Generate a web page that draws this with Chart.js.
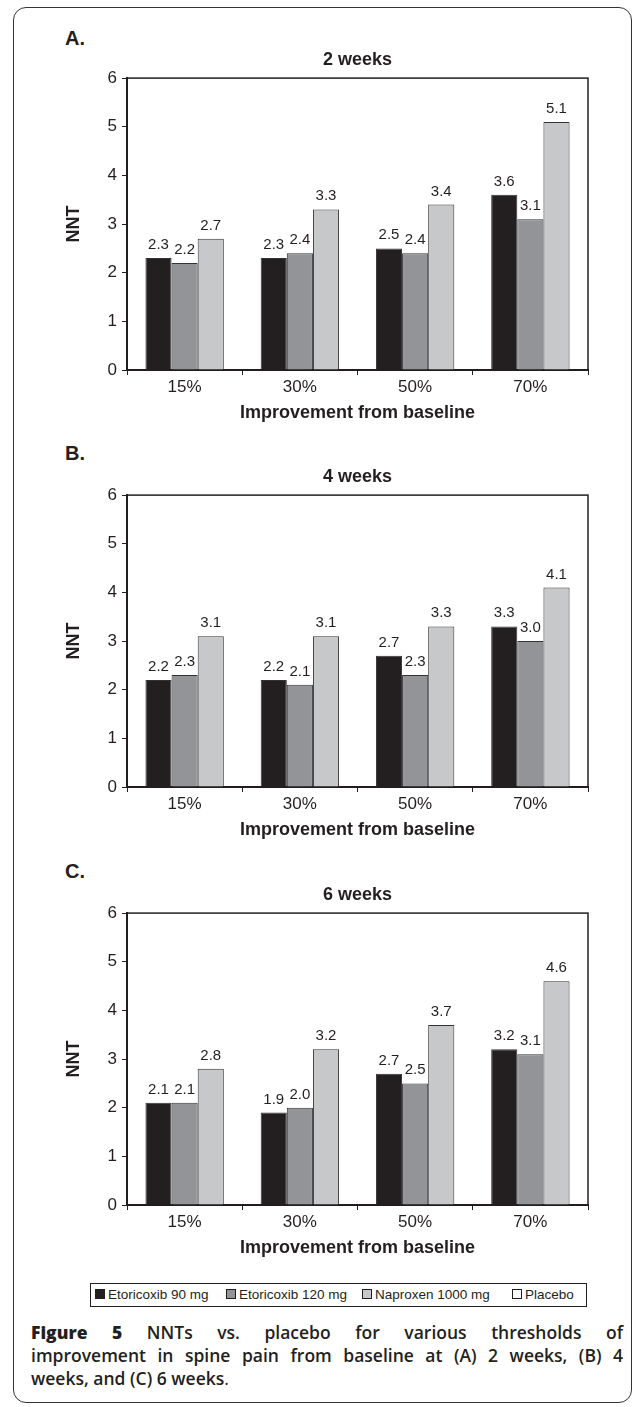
<!DOCTYPE html>
<html>
<head>
<meta charset="utf-8">
<script src="https://cdn.jsdelivr.net/npm/chart.js@4.4.1/dist/chart.umd.min.js"></script>
<style>
  html, body { margin: 0; padding: 0; background: #fff; }
  body { width: 636px; height: 1407px; position: relative; overflow: hidden; font-family: "Liberation Sans", Arial, sans-serif; color: #231f20; }
  .frame { position: absolute; left: 13px; top: 7px; width: 619px; height: 1396px; border: 1.5px solid #333; border-radius: 13px; box-sizing: border-box; }
  .panel-label { position: absolute; left: 65px; font-weight: bold; font-size: 20px; line-height: 20px; }
  .chart-box { position: absolute; left: 0; width: 636px; height: 391px; }
  .legend { position: absolute; left: 90px; top: 1283px; width: 497px; height: 24px; border: 1px solid #231f20; box-sizing: border-box; font-size: 13.5px; }
  .legend span { position: absolute; top: 3px; white-space: nowrap; }
  .legend i { display: inline-block; width: 8px; height: 8px; border: 1px solid #231f20; margin-right: 3px; vertical-align: 0px; }
  .caption { position: absolute; left: 31px; top: 1321px; width: 592px; font-family: "Open Sans", sans-serif; font-weight: 600; font-size: 17.5px; line-height: 23px; color: #231f20; }
  .caption div { white-space: nowrap; }
  .caption .j { text-align: justify; text-align-last: justify; }
  .caption b { font-weight: 800; }
</style>
</head>
<body>
<div class="frame"></div>

<div class="panel-label" style="top:28px">A.</div>
<div class="chart-box" style="top:40px"><canvas id="chartA" width="636" height="391"></canvas></div>

<div class="panel-label" style="top:443px">B.</div>
<div class="chart-box" style="top:457px"><canvas id="chartB" width="636" height="391"></canvas></div>

<div class="panel-label" style="top:861px">C.</div>
<div class="chart-box" style="top:875px"><canvas id="chartC" width="636" height="391"></canvas></div>

<div class="legend" id="legend"></div>

<div class="caption">
  <div class="j"><b>Figure 5</b> NNTs vs. placebo for various thresholds of</div>
  <div class="j">improvement in spine pain from baseline at (A) 2 weeks, (B) 4</div>
  <div>weeks, and (C) 6 weeks<span style="font-weight:400">.</span></div>
</div>

<script>
// categorias e séries
const categorias = ['15%', '30%', '50%', '70%'];
const series = ['Etoricoxib 90 mg', 'Etoricoxib 120 mg', 'Naproxen 1000 mg', 'Placebo'];
const cores = ['#231f20', '#929497', '#c7c8ca', '#ffffff'];

// A. 2 weeks
const etori90_2sem = [2.3, 2.3, 2.5, 3.6];
const etori120_2sem = [2.2, 2.4, 2.4, 3.1];
const naprox_2sem = [2.7, 3.3, 3.4, 5.1];

// B. 4 weeks
const etori90_4sem = [2.2, 2.2, 2.7, 3.3];
const etori120_4sem = [2.3, 2.1, 2.3, 3.0];
const naprox_4sem = [3.1, 3.1, 3.3, 4.1];

// C. 6 weeks
const etori90_6sem = [2.1, 1.9, 2.7, 3.2];
const etori120_6sem = [2.1, 2.0, 2.5, 3.1];
const naprox_6sem = [2.8, 3.2, 3.7, 4.6];

const ticksY = [0, 1, 2, 3, 4, 5, 6];

const TXT = '#231f20';
const FONTE = '"Liberation Sans", Arial, sans-serif';
Chart.defaults.font.family = FONTE;
Chart.defaults.color = TXT;

// rótulos de valor acima das barras
const rotulosValor = {
  id: 'rotulosValor',
  afterDatasetDraw(chart, args) {
    const ctx = chart.ctx;
    const ds = chart.data.datasets[args.index];
    ctx.save();
    ctx.font = '15px ' + FONTE;
    ctx.fillStyle = TXT;
    ctx.textAlign = 'center';
    ctx.textBaseline = 'alphabetic';
    args.meta.data.forEach((bar, i) => {
      ctx.fillText(ds.data[i].toFixed(1), bar.x, bar.y - 9);
    });
    ctx.restore();
  }
};

// moldura da área do gráfico
const moldura = {
  id: 'moldura',
  beforeDatasetsDraw(chart) {
    const { ctx, chartArea: a } = chart;
    ctx.save();
    ctx.strokeStyle = TXT;
    ctx.lineWidth = 1.5;
    ctx.strokeRect(a.left, a.top, a.right - a.left, a.bottom - a.top);
    ctx.restore();
  }
};

function criarPainel(id, titulo, d90, d120, dNap) {
  const dados = [d90, d120, dNap];
  return new Chart(document.getElementById(id), {
    type: 'bar',
    data: {
      labels: categorias,
      datasets: dados.map((d, i) => ({
        label: series[i],
        data: d,
        backgroundColor: cores[i],
        borderColor: '#333333',
        borderWidth: 1,
        borderSkipped: 'bottom',
        barPercentage: 1,
        categoryPercentage: 0.68
      }))
    },
    options: {
      responsive: false,
      animation: false,
      devicePixelRatio: 1,
      layout: { padding: { left: 0, right: 48, top: 0, bottom: 0 } },
      plugins: {
        legend: { display: false },
        tooltip: { enabled: false },
        title: {
          display: true,
          text: titulo,
          fullSize: false,
          color: TXT,
          font: { size: 18, weight: 'bold' },
          padding: { top: 9, bottom: 7.5 }
        }
      },
      scales: {
        x: {
          grid: { display: true, drawOnChartArea: false, drawTicks: true, tickLength: 5, color: TXT, lineWidth: 1 },
          border: { color: TXT, width: 2 },
          ticks: { color: TXT, font: { size: 17 }, padding: 2, maxRotation: 0 },
          title: {
            display: true,
            text: 'Improvement from baseline',
            color: TXT,
            font: { size: 18, weight: 'bold' },
            padding: { top: 0, bottom: 7 }
          },
          afterFit(s) { s.height = 61; }
        },
        y: {
          min: 0,
          max: 6,
          afterBuildTicks(s) { s.ticks = ticksY.map(v => ({ value: v })); },
          grid: { display: true, drawOnChartArea: false, drawTicks: true, tickLength: 5, color: TXT, lineWidth: 1 },
          border: { color: TXT, width: 2 },
          ticks: { color: TXT, font: { size: 17 }, padding: 5 },
          title: {
            display: true,
            text: 'NNT',
            color: TXT,
            font: { size: 18, weight: 'bold' },
            padding: { top: 63, bottom: 0 }
          },
          afterFit(s) { s.width = 127; }
        }
      }
    },
    plugins: [moldura, rotulosValor]
  });
}

criarPainel('chartA', '2 weeks', etori90_2sem, etori120_2sem, naprox_2sem);
criarPainel('chartB', '4 weeks', etori90_4sem, etori120_4sem, naprox_4sem);
criarPainel('chartC', '6 weeks', etori90_6sem, etori120_6sem, naprox_6sem);

// legenda
const posLegenda = [4, 135, 271, 421];
const leg = document.getElementById('legend');
series.forEach((s, i) => {
  const span = document.createElement('span');
  span.style.left = posLegenda[i] + 'px';
  const sw = document.createElement('i');
  sw.style.background = cores[i];
  span.appendChild(sw);
  span.appendChild(document.createTextNode(s));
  leg.appendChild(span);
});
</script>
</body>
</html>
